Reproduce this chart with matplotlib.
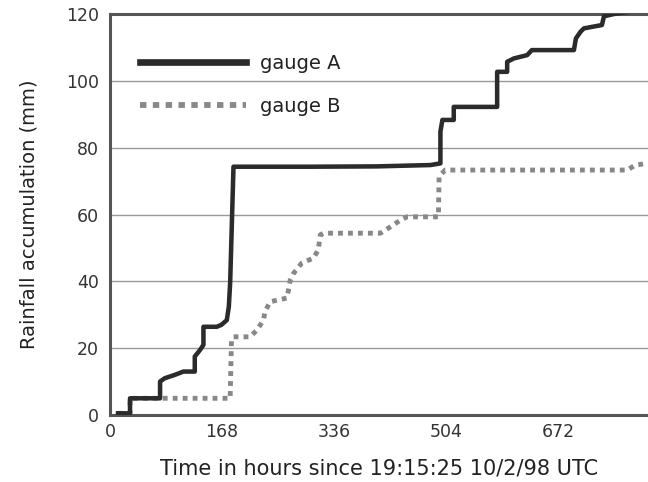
import matplotlib
matplotlib.use("Agg")
import matplotlib.pyplot as plt
from matplotlib.lines import Line2D

# Gauge A (hours, mm)
hours_a = [12, 30, 30, 75, 75, 82, 97, 110, 127, 127, 135, 140, 140, 160, 167,
           175, 178, 180, 185, 300, 400, 480, 495, 495, 498, 515, 515, 580, 580,
           595, 595, 605, 625, 632, 695, 698, 705, 710, 737, 740, 755, 790, 810]
rain_a = [0.5, 0.5, 5, 5, 10, 11, 12, 13, 13, 17.5, 19.5, 21, 26.4, 26.4, 27,
          28.4, 32.4, 39.5, 74.3, 74.3, 74.4, 74.8, 75.3, 84.8, 88.3, 88.3, 92.2, 92.2, 102.7,
          102.7, 105.7, 106.7, 107.7, 109.2, 109.2, 112.7, 114.7, 115.7, 116.7, 119.3, 120, 121, 122]

# Gauge B (hours, mm)
hours_b = [12, 30, 30, 180, 182, 185, 210, 220, 230, 232, 240, 265, 268, 270, 275,
           287, 305, 312, 315, 320, 405, 420, 435, 445, 492, 493, 502,
           775, 787, 806]
rain_b = [0.5, 0.5, 5, 5, 22.4, 23.4, 23.4, 25.4, 28.4, 30.9, 33.9, 35, 38, 40.4, 42.4,
          45.4, 47, 49.4, 53.9, 54.4, 54.4, 56.3, 58.3, 59.3, 59.3, 71.3, 73.3,
          73.3, 74.8, 75.3]

x_ticks = [0, 168, 336, 504, 672]
y_ticks = [0, 20, 40, 60, 80, 100, 120]
series_labels = ["gauge A", "gauge B"]

color_a = "#2b2b2b"
color_b = "#888888"
dots = (0, (1.0, 1.05))

fig = plt.figure(figsize=(6.48, 4.82), dpi=100)
ax = fig.add_axes([110 / 648, 1 - 415 / 482, 538 / 648, 401 / 482])

ax.plot(hours_b, rain_b, color=color_b, lw=3.5, linestyle=dots,
        dash_capstyle="butt", zorder=3)
ax.plot(hours_a, rain_a, color=color_a, lw=3.25, zorder=4)

ax.set_xlim(0, 806)
ax.set_ylim(0, 120)
ax.set_xticks(x_ticks)
ax.set_yticks(y_ticks)
ax.yaxis.grid(True, color="#999999", lw=1.0)
ax.set_axisbelow(True)
ax.tick_params(length=0, labelsize=12.5, colors="#333333")
ax.tick_params(axis="y", pad=8)
ax.tick_params(axis="x", pad=6)

for s in ["left", "bottom", "top"]:
    ax.spines[s].set_color("#555555")
    ax.spines[s].set_linewidth(2.2)
ax.spines["right"].set_visible(False)

ax.set_xlabel("Time in hours since 19:15:25 10/2/98 UTC", fontsize=15, color="#222222", labelpad=12)
ax.set_ylabel("Rainfall accumulation (mm)", fontsize=14, color="#222222", labelpad=20)

handles = [Line2D([], [], color=color_a, lw=4.8),
           Line2D([], [], color=color_b, lw=4.2, linestyle=(0, (1.1, 1.1)), dash_capstyle="butt")]
ax.legend(handles, series_labels, loc="upper left",
          bbox_to_anchor=(30 / 538, (415 - 54) / 401), frameon=False, fontsize=14,
          handlelength=5.45, labelspacing=1.25, handletextpad=0.72,
          borderpad=0, borderaxespad=0, labelcolor="#222222")

fig.savefig("out.png", dpi=100, facecolor="white")
